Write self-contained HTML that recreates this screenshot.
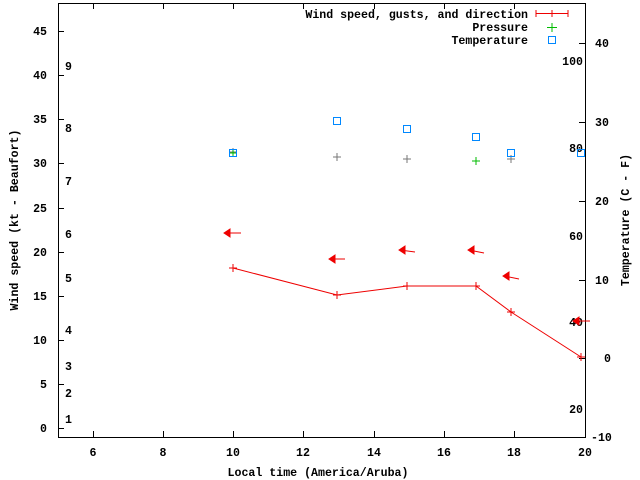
<!DOCTYPE html>
<html><head><style>body{margin:0;background:#fff}svg{display:block}text{font-family:"Liberation Mono","DejaVu Sans Mono",monospace;font-size:11.6px;font-weight:bold;fill:#000}</style></head><body>
<svg width="640" height="480" viewBox="0 0 640 480">
<rect x="58.5" y="3.5" width="527" height="434" fill="none" stroke="#000"/>
<g stroke="#000">
<path d="M93.5,437v-6M93.5,3v6M163.5,437v-6M163.5,3v6M233.5,437v-6M233.5,3v6M303.5,437v-6M303.5,3v6M374.5,437v-6M374.5,3v6M444.5,437v-6M444.5,3v6M514.5,437v-6M514.5,3v6"/>
<path d="M58,428.5h6M58,384.5h6M58,340.5h6M58,296.5h6M58,252.5h6M58,208.5h6M58,163.5h6M58,119.5h6M58,75.5h6M58,31.5h6"/>
<path d="M585,43.5h-6M585,122.5h-6M585,201.5h-6M585,280.5h-6M585,358.5h-6M585,437.5h-6"/>
</g>
<g text-anchor="end">
<text x="47" y="432">0</text><text x="47" y="388">5</text><text x="47" y="344">10</text><text x="47" y="300">15</text><text x="47" y="256">20</text><text x="47" y="212">25</text><text x="47" y="167">30</text><text x="47" y="123">35</text><text x="47" y="79">40</text><text x="47" y="35">45</text>
<text x="583" y="65">100</text><text x="583" y="152">80</text><text x="583" y="240">60</text><text x="583" y="326">40</text><text x="583" y="413">20</text>
<text x="528" y="18">Wind speed, gusts, and direction</text><text x="528" y="31">Pressure</text><text x="528" y="44">Temperature</text>
</g>
<g text-anchor="middle">
<text x="93" y="456">6</text><text x="163" y="456">8</text><text x="233" y="456">10</text><text x="303" y="456">12</text><text x="374" y="456">14</text><text x="444" y="456">16</text><text x="514" y="456">18</text><text x="585" y="456">20</text>
<text x="318" y="476">Local time (America/Aruba)</text>
</g>
<g>
<text x="65" y="70">9</text><text x="65" y="132">8</text><text x="65" y="185">7</text><text x="65" y="238">6</text><text x="65" y="282">5</text><text x="65" y="334">4</text><text x="65" y="370">3</text><text x="65" y="397">2</text><text x="65" y="423">1</text>
<text x="595" y="47">40</text><text x="595" y="126">30</text><text x="595" y="205">20</text><text x="595" y="284">10</text><text x="604" y="362">0</text><text x="591" y="441">-10</text>
</g>
<text transform="translate(18,220) rotate(-90)" text-anchor="middle">Wind speed (kt - Beaufort)</text>
<text transform="translate(629,220) rotate(-90)" text-anchor="middle">Temperature (C - F)</text>
<path d="M536,13.5h32M536,10v7M568,10v7M552,10v7" stroke="#e00" fill="none"/>
<path d="M547,27.5h10M552,23v9" stroke="#0b0"/>
<rect x="548.5" y="36.5" width="7" height="7" fill="none" stroke="#08f"/>
<polyline points="233,268 337,295 407,286 476,286 511,312 581,357" fill="none" stroke="#e00"/>
<g stroke="#e00"><path d="M229,268h8M233,264v8M333,295h8M337,291v8M403,286h8M407,282v8M472,286h8M476,282v8M507,312h8M511,308v8M577,357h8M581,353v8"/></g>
<g stroke="#777"><path d="M333,157h8M337,153v8M403,159h8M407,155v8M507,159h8M511,155v8M229,152h8M233,148v8"/></g>
<g stroke="#0b0"><path d="M229,153h8M233,149v8M472,161h8M476,157v8"/></g>
<g fill="none" stroke="#08f"><rect x="229.5" y="149.5" width="7" height="7"/><rect x="333.5" y="117.5" width="7" height="7"/><rect x="403.5" y="125.5" width="7" height="7"/><rect x="472.5" y="133.5" width="7" height="7"/><rect x="507.5" y="149.5" width="7" height="7"/><rect x="577.5" y="149.5" width="7" height="7"/></g>
<g stroke="#e00" fill="#e00">
<path d="M225,233h16"/><path d="M224,233l6,-4v8z"/>
<path d="M330,259h15"/><path d="M329,259l6,-4v8z"/>
<path d="M400,250l15,2"/><path d="M399,250l6,-4v8z"/>
<path d="M469,250l15,3"/><path d="M468,250l6,-4v8z"/>
<path d="M504,276l15,3"/><path d="M503,276l6,-4v8z"/>
<path d="M574,321h16"/><path d="M573,321l6,-4v8z"/>
</g>
</svg>
</body></html>
